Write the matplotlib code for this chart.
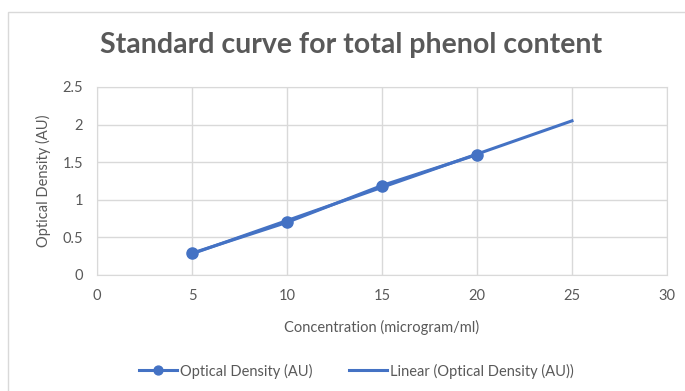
import matplotlib
matplotlib.use("Agg")
import matplotlib.pyplot as plt
from matplotlib.patches import Rectangle
import numpy as np

# Standard curve data
concentration = [5, 10, 15, 20]
optical_density = [0.29, 0.70, 1.19, 1.60]
trend_end = 25

x_ticks = [0, 5, 10, 15, 20, 25, 30]
y_ticks = [0, 0.5, 1, 1.5, 2, 2.5]

blue = "#4472c4"
grey_text = "#595959"
grid_col = "#d9d9d9"

plt.rcParams["font.family"] = ["Lato", "DejaVu Sans"]

fig = plt.figure(figsize=(6.85, 3.91), dpi=100)
ax = fig.add_axes([97 / 685, 1 - 275 / 391, (667 - 97) / 685, (275 - 87) / 391])

# chart area border (Excel style, cropped on right/bottom)
fig.patches.append(Rectangle((8 / 685, -0.1), 1.2, 1 - 12 / 391 + 0.1,
                             transform=fig.transFigure, fill=False,
                             edgecolor="#d9d9d9", linewidth=1))

# linear trendline
slope, intercept = np.polyfit(concentration, optical_density, 1)
tx = np.array([concentration[0], trend_end])
ax.plot(tx, slope * tx + intercept, color=blue, linewidth=2.2,
        label="Linear (Optical Density (AU))", zorder=3)

ax.plot(concentration, optical_density, color=blue, linewidth=2.2,
        marker="o", markersize=8, label="Optical Density (AU)", zorder=4)

ax.set_xlim(0, 30)
ax.set_ylim(0, 2.5)
ax.set_xticks(x_ticks)
ax.set_yticks(y_ticks)
ax.set_yticklabels(["0", "0.5", "1", "1.5", "2", "2.5"])
ax.grid(True, color=grid_col, linewidth=1)
ax.set_axisbelow(True)
for s in ax.spines.values():
    s.set_color(grid_col)
ax.tick_params(length=0, colors=grey_text, labelsize=10.5, pad=10)

ax.set_xlabel("Concentration (microgram/ml)", color=grey_text, fontsize=10.5, labelpad=12)
ax.set_ylabel("Optical Density (AU)", color=grey_text, fontsize=10.5, labelpad=8)

fig.text(0.512, 1 - 45 / 391, "Standard curve for total phenol content",
         ha="center", va="center", fontsize=20.5, fontweight="bold", color=grey_text)

handles, labels = ax.get_legend_handles_labels()
leg = fig.legend(handles[::-1], labels[::-1], loc="center", bbox_to_anchor=(0.52, 1 - 371 / 391),
                 ncol=2, frameon=False, fontsize=10.5, labelcolor=grey_text,
                 handlelength=2.6, handletextpad=0.2, columnspacing=2.5, markerscale=0.8)

fig.savefig("out.png", dpi=100, facecolor="white")
